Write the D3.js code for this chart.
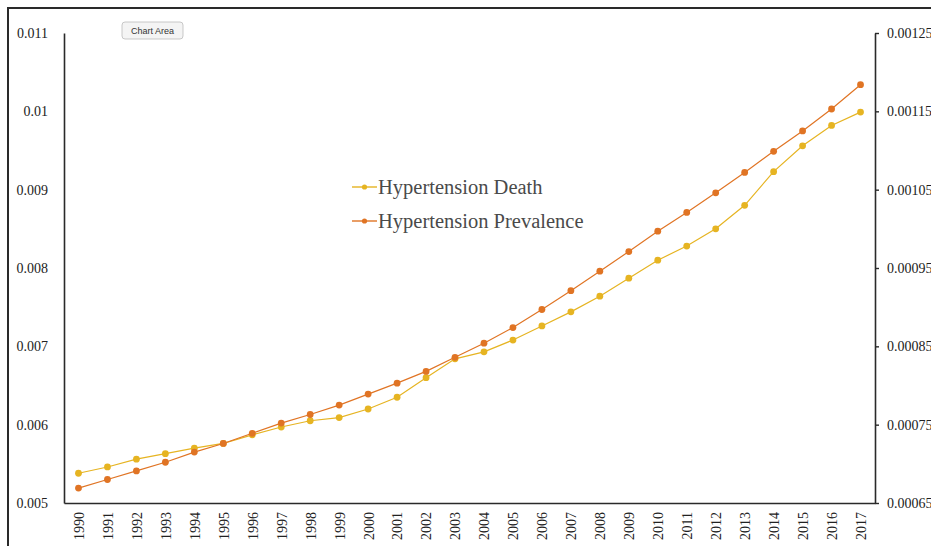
<!DOCTYPE html>
<html>
<head>
<meta charset="utf-8">
<script src="https://cdn.jsdelivr.net/npm/d3@7"></script>
<style>
  html, body { margin: 0; padding: 0; background: #fff; }
  svg { display: block; }
</style>
</head>
<body>
<svg id="chart" width="931" height="546"></svg>
<script>
// Years on the category axis
const years = [1990,1991,1992,1993,1994,1995,1996,1997,1998,1999,2000,2001,2002,2003,
               2004,2005,2006,2007,2008,2009,2010,2011,2012,2013,2014,2015,2016,2017];

// Hypertension death rate (left axis)
const deathValues = [0.00538,0.00546,0.00556,0.00563,0.00570,0.00576,0.00587,0.00597,0.00605,
                     0.00609,0.00620,0.00635,0.00660,0.00684,0.00693,0.00708,0.00726,0.00744,
                     0.00764,0.00787,0.00810,0.00828,0.00850,0.00880,0.00923,0.00956,0.00982,0.00999];

// Hypertension prevalence (right axis)
const prevalenceValues = [0.000669,0.000680,0.000691,0.000702,0.000715,0.000726,0.000739,0.000752,
                          0.000763,0.000775,0.000789,0.000803,0.000818,0.000836,0.000854,0.000874,
                          0.000897,0.000921,0.000946,0.000971,0.000997,0.001021,0.001046,0.001072,
                          0.001099,0.001125,0.001153,0.001184];

// Axis tick values
const leftTicks = [0.005,0.006,0.007,0.008,0.009,0.010,0.011];
const leftTickLabels = ["0.005","0.006","0.007","0.008","0.009","0.01","0.011"];
const rightTicks = [0.00065,0.00075,0.00085,0.00095,0.00105,0.00115,0.00125];
const rightTickLabels = ["0.00065","0.00075","0.00085","0.00095","0.00105","0.00115","0.00125"];

const seriesNames = ["Hypertension Death", "Hypertension Prevalence"];
const deathColor = "#e6b422";
const prevColor = "#e07424";

const svg = d3.select("#chart");
const plot = { left: 64, right: 875, top: 33, bottom: 503 };
const serif = "'Liberation Serif', 'Times New Roman', serif";

// Outer frame
svg.append("rect")
  .attr("x", 8).attr("y", 8).attr("width", 940).attr("height", 560)
  .attr("fill", "none").attr("stroke", "#2a2a2a").attr("stroke-width", 2);

const x = d3.scalePoint().domain(years).range([plot.left, plot.right]).padding(0.5);
const yLeft = d3.scaleLinear().domain([0.005, 0.011]).range([plot.bottom, plot.top]);
const yRight = d3.scaleLinear().domain([0.00065, 0.00125]).range([plot.bottom, plot.top]);

// Left axis
const gLeft = svg.append("g").attr("transform", `translate(${plot.left},0)`)
  .call(d3.axisLeft(yLeft).tickValues(leftTicks)
        .tickFormat((d, i) => leftTickLabels[i]).tickSize(0).tickPadding(16));
gLeft.select(".domain").attr("stroke", "#2a2a2a").attr("stroke-width", 1.6);
gLeft.selectAll("text").attr("font-family", serif).attr("font-size", 14).attr("fill", "#222");

// Right axis
const gRight = svg.append("g").attr("transform", `translate(${plot.right},0)`)
  .call(d3.axisRight(yRight).tickValues(rightTicks)
        .tickFormat((d, i) => rightTickLabels[i]).tickSize(4).tickSizeOuter(0).tickPadding(8));
gRight.select(".domain").attr("stroke", "#2a2a2a").attr("stroke-width", 1.6);
gRight.selectAll(".tick line").attr("stroke", "#2a2a2a").attr("stroke-width", 1.4);
gRight.selectAll("text").attr("font-family", serif).attr("font-size", 14).attr("fill", "#222");

// Bottom axis
const gBottom = svg.append("g").attr("transform", `translate(0,${plot.bottom})`)
  .call(d3.axisBottom(x).tickSize(0).tickSizeOuter(0).tickPadding(0));
gBottom.select(".domain").attr("stroke", "#2a2a2a").attr("stroke-width", 1.6);
gBottom.selectAll("text")
  .attr("font-family", serif).attr("font-size", 14).attr("fill", "#222")
  .attr("text-anchor", "end")
  .attr("dy", "0.35em")
  .attr("transform", "translate(0,9) rotate(-90)")
  .attr("x", 0).attr("y", 0);

// Series lines and markers
const series = [
  { name: seriesNames[0], values: deathValues, y: yLeft, color: deathColor },
  { name: seriesNames[1], values: prevalenceValues, y: yRight, color: prevColor }
];

series.forEach(s => {
  const line = d3.line().x((d, i) => x(years[i])).y(d => s.y(d));
  svg.append("path").datum(s.values)
    .attr("d", line).attr("fill", "none")
    .attr("stroke", s.color).attr("stroke-width", 1.2);
  svg.append("g").selectAll("circle").data(s.values).join("circle")
    .attr("cx", (d, i) => x(years[i])).attr("cy", d => s.y(d))
    .attr("r", 3.4).attr("fill", s.color);
});

// Legend
const legend = svg.append("g").attr("transform", "translate(352,187)");
series.forEach((s, i) => {
  const g = legend.append("g").attr("transform", `translate(0,${i * 34})`);
  g.append("line").attr("x1", 0).attr("x2", 25).attr("y1", 0).attr("y2", 0)
    .attr("stroke", s.color).attr("stroke-width", 1.4);
  g.append("circle").attr("cx", 12.5).attr("cy", 0).attr("r", 2.6).attr("fill", s.color);
  g.append("text").attr("x", 26).attr("y", 0).attr("dy", "0.35em")
    .attr("font-family", serif).attr("font-size", 20.5).attr("fill", "#4a4a4a")
    .text(s.name);
});

// "Chart Area" hover tag
const tag = svg.append("g").attr("transform", "translate(122,22)");
tag.append("rect").attr("width", 61).attr("height", 17).attr("rx", 3)
  .attr("fill", "#f4f4f4").attr("stroke", "#bbb").attr("stroke-width", 0.8);
tag.append("text").attr("x", 30.5).attr("y", 8.5).attr("dy", "0.35em")
  .attr("text-anchor", "middle").attr("font-family", "'Liberation Sans', Arial, sans-serif")
  .attr("font-size", 9).attr("fill", "#333").text("Chart Area");
</script>
</body>
</html>
